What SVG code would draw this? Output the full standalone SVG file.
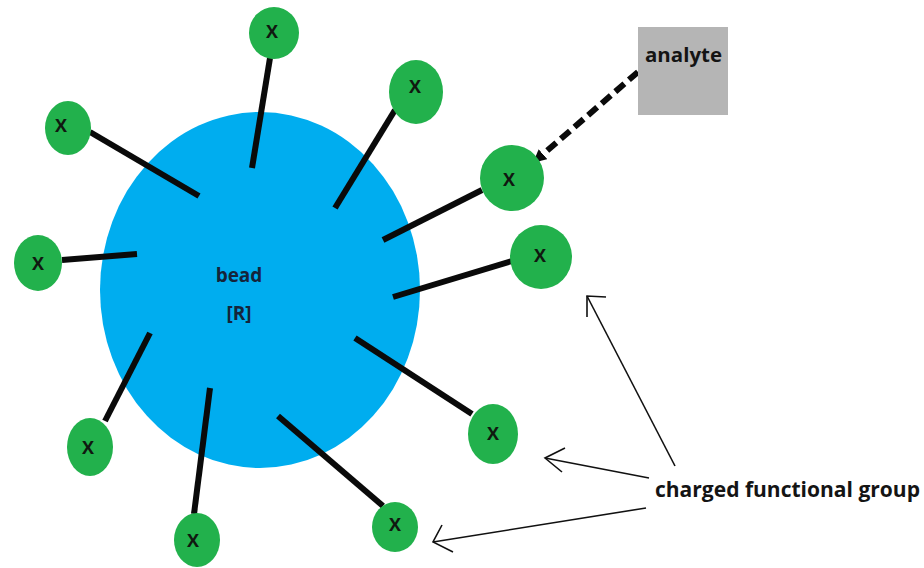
<svg xmlns="http://www.w3.org/2000/svg" width="924" height="568" viewBox="0 0 924 568">
  <style>
    .spoke { stroke: #0a0a0a; stroke-width: 6; stroke-linecap: butt; fill: none; }
    .pointer { stroke: #111; stroke-width: 1.6; fill: none; stroke-linejoin: miter; }
    .bind { stroke: #0a0a0a; stroke-width: 6; stroke-dasharray: 12 6; fill: none; }
    .group { fill: #22b14c; }
    .glyph { font-family: "Open Sans", "Liberation Sans", sans-serif; font-weight: bold; font-size: 18px; fill: #101810; text-anchor: middle; }
    .label { font-family: "Open Sans", "Liberation Sans", sans-serif; font-weight: bold; fill: #141414; }
    .core { font-family: "Open Sans", "Liberation Sans", sans-serif; font-weight: bold; font-size: 19px; fill: #15243a; text-anchor: middle; }
  </style>
  <defs>
    <marker id="tip" viewBox="0 0 10 10" refX="9" refY="5" markerWidth="2.2" markerHeight="2.2" orient="auto" markerUnits="strokeWidth">
      <path d="M0,0 L10,5 L0,10 z" fill="#0a0a0a"/>
    </marker>
  </defs>

  <rect width="924" height="568" fill="#ffffff"/>

  <!-- resin bead -->
  <g id="bead">
    <ellipse cx="260" cy="290" rx="160" ry="178" fill="#00adef"/>
    <text class="core" x="239" y="282">bead</text>
    <text class="core" x="239" y="320">[R]</text>
  </g>

  <!-- linkers, binding and label pointers -->
  <g id="connectors">
    <line class="spoke" x1="270" y1="58" x2="252" y2="168"/>
    <line class="spoke" x1="90" y1="132" x2="199" y2="196"/>
    <line class="spoke" x1="395" y1="110" x2="335" y2="208"/>
    <line class="spoke" x1="482" y1="190" x2="383" y2="240"/>
    <line class="spoke" x1="62" y1="260" x2="137" y2="254"/>
    <line class="spoke" x1="512" y1="261" x2="393" y2="297"/>
    <line class="spoke" x1="472" y1="414" x2="355" y2="338"/>
    <line class="spoke" x1="105" y1="421" x2="150" y2="333"/>
    <line class="spoke" x1="194" y1="514" x2="210" y2="388"/>
    <line class="spoke" x1="383" y1="506" x2="278" y2="416"/>

    <line class="bind" x1="638" y1="72" x2="534" y2="162" marker-end="url(#tip)"/>

    <line class="pointer" x1="675" y1="466" x2="587" y2="296"/>
    <polyline class="pointer" points="606,297 587,296 587,317"/>
    <line class="pointer" x1="649" y1="478" x2="545" y2="458"/>
    <polyline class="pointer" points="565,448 545,458 562,472"/>
    <line class="pointer" x1="646" y1="508" x2="433" y2="542"/>
    <polyline class="pointer" points="442,525 433,542 453,552"/>
  </g>

  <!-- charged functional groups -->
  <g id="x1"><ellipse class="group" cx="274" cy="33" rx="25" ry="26"/><text class="glyph" x="272" y="37.5">X</text></g>
  <g id="x2"><ellipse class="group" cx="68" cy="128" rx="23" ry="27"/><text class="glyph" x="61" y="131.5">X</text></g>
  <g id="x3"><ellipse class="group" cx="416" cy="92" rx="27" ry="32"/><text class="glyph" x="415" y="93">X</text></g>
  <g id="x4"><ellipse class="group" cx="512" cy="178" rx="32" ry="33"/><text class="glyph" x="509" y="185.5">X</text></g>
  <g id="x5"><ellipse class="group" cx="38" cy="263" rx="24" ry="28"/><text class="glyph" x="38" y="269.5">X</text></g>
  <g id="x6"><ellipse class="group" cx="541" cy="257" rx="31" ry="32"/><text class="glyph" x="540" y="262">X</text></g>
  <g id="x7"><ellipse class="group" cx="493" cy="434" rx="25" ry="30"/><text class="glyph" x="493" y="439.5">X</text></g>
  <g id="x8"><ellipse class="group" cx="90" cy="447" rx="23" ry="29"/><text class="glyph" x="88" y="453.5">X</text></g>
  <g id="x9"><ellipse class="group" cx="197" cy="540" rx="23" ry="27"/><text class="glyph" x="193" y="546.5">X</text></g>
  <g id="x10"><ellipse class="group" cx="395" cy="527" rx="23" ry="25"/><text class="glyph" x="395" y="531">X</text></g>

  <!-- analyte -->
  <g id="analyte">
    <rect x="638" y="27" width="90" height="88" fill="#b5b5b5"/>
    <text class="label" x="645" y="62" font-size="20" textLength="77" lengthAdjust="spacingAndGlyphs">analyte</text>
  </g>

  <!-- caption -->
  <g id="caption">
    <text class="label" x="655" y="497" font-size="21" textLength="265" lengthAdjust="spacingAndGlyphs">charged functional group</text>
  </g>
</svg>
